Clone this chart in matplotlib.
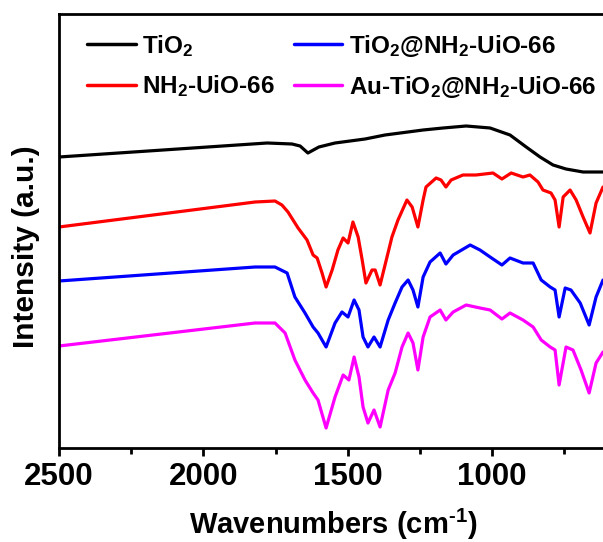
import matplotlib
matplotlib.use("Agg")
import matplotlib.pyplot as plt
from matplotlib.ticker import MultipleLocator

plt.rcParams['font.family'] = ['Liberation Sans', 'DejaVu Sans']
plt.rcParams['font.weight'] = 'bold'
plt.rcParams['mathtext.fontset'] = 'custom'
plt.rcParams['mathtext.rm'] = 'Liberation Sans:bold'
plt.rcParams['mathtext.it'] = 'Liberation Sans:bold'
plt.rcParams['mathtext.bf'] = 'Liberation Sans:bold'
plt.rcParams['mathtext.default'] = 'rm'

# FTIR spectra (wavenumber in cm^-1, intensity in arbitrary units, curves offset)
tio2_wn = [2500, 1779, 1693, 1665, 1638, 1600, 1544, 1440, 1371, 1239, 1170,
           1090, 1007, 938, 882, 834, 789, 744, 685, 616]
tio2_y = [291, 305, 304, 302, 295, 301, 305, 309, 313, 318, 320,
          322, 320, 313, 301, 291, 283, 279, 276, 276]

uio_wn = [2500, 1821, 1752, 1728, 1707, 1672, 1641, 1620, 1606, 1589, 1575,
          1554, 1534, 1516, 1499, 1482, 1464, 1450, 1437, 1416, 1405, 1388,
          1364, 1347, 1326, 1295, 1277, 1257, 1239, 1229, 1194, 1177, 1160,
          1142, 1101, 1056, 997, 966, 934, 893, 869, 841, 824, 796, 782,
          768, 754, 730, 709, 685, 661, 640, 616]
uio_y = [221, 246, 247, 243, 236, 220, 208, 193, 190, 175, 161,
         178, 198, 210, 205, 226, 211, 188, 165, 178, 178, 163,
         191, 211, 228, 248, 241, 221, 248, 261, 270, 268, 261,
         268, 273, 273, 275, 269, 275, 271, 273, 266, 258, 255, 248,
         221, 251, 258, 248, 231, 215, 245, 261]

tio2_uio_wn = [2500, 1821, 1752, 1710, 1683, 1648, 1620, 1603, 1575, 1544, 1520,
               1499, 1478, 1461, 1447, 1430, 1409, 1388, 1360, 1336, 1312, 1291,
               1274, 1257, 1239, 1215, 1180, 1160, 1135, 1076, 1042, 1007, 966,
               938, 893, 858, 830, 799, 782, 768, 747, 727, 695, 664, 640, 616]
tio2_uio_y = [167, 181, 181, 175, 151, 135, 121, 115, 101, 125, 136,
              131, 148, 138, 111, 101, 111, 101, 128, 145, 161, 168,
              158, 141, 171, 186, 195, 184, 193, 203, 198, 191, 183,
              190, 185, 185, 168, 161, 158, 131, 160, 158, 145, 123, 151, 168]

au_wn = [2500, 1821, 1752, 1717, 1683, 1648, 1620, 1603, 1575, 1544, 1516,
         1496, 1478, 1461, 1447, 1430, 1409, 1388, 1360, 1336, 1312, 1291,
         1274, 1257, 1239, 1215, 1180, 1160, 1135, 1090, 1042, 1007, 966,
         938, 893, 858, 830, 799, 782, 768, 744, 720, 692, 664, 640, 616]
au_y = [102, 125, 125, 115, 88, 68, 55, 48, 20, 51, 73,
        68, 91, 71, 41, 25, 38, 21, 58, 75, 101, 115,
        105, 78, 111, 131, 138, 128, 136, 143, 140, 138, 129,
        135, 128, 121, 108, 101, 98, 63, 101, 98, 78, 55, 85, 96]

labels = ['TiO$_2$', 'NH$_2$-UiO-66', 'TiO$_2$@NH$_2$-UiO-66', 'Au-TiO$_2$@NH$_2$-UiO-66']
colors = ['#000000', '#ff0000', '#0000ff', '#ff00ff']

fig = plt.figure(figsize=(6.03, 5.42), dpi=100)
ax = fig.add_axes([59 / 603, 94 / 542, 544 / 603, 434 / 542])

series = [(tio2_wn, tio2_y), (uio_wn, uio_y), (tio2_uio_wn, tio2_uio_y), (au_wn, au_y)]
handles = []
for (wn, y), c, lab in zip(series, colors, labels):
    h, = ax.plot(wn, y, color=c, lw=2.3, label=lab,
                 solid_joinstyle='round', solid_capstyle='round')
    handles.append(h)

ax.set_xlim(2500, 616)
ax.set_ylim(0, 434)
ax.xaxis.set_major_locator(MultipleLocator(500))
ax.xaxis.set_minor_locator(MultipleLocator(250))
ax.set_yticks([])
ax.spines['right'].set_visible(False)
for s in ['left', 'bottom', 'top']:
    ax.spines[s].set_linewidth(2.0)
ax.tick_params(axis='x', which='major', direction='out', length=6, width=2.0,
               labelsize=22.5, pad=4)
ax.tick_params(axis='x', which='minor', direction='out', length=4, width=2.0)
for t in ax.get_xticklabels():
    t.set_fontweight('bold')

ax.set_xlabel(r'Wavenumbers (cm$^{\text{-1}}$)', fontsize=21, fontweight='bold')
ax.xaxis.set_label_coords((333 - 59) / 544, -0.135)
ax.set_ylabel('Intensity (a.u.)', fontsize=21.5, fontweight='bold')
ax.yaxis.set_label_coords(-0.035, 0.463)

leg = ax.legend(handles=handles, labels=labels,
                ncol=2, frameon=False, fontsize=17.5, loc='upper left',
                bbox_to_anchor=(87 / 603, 1 - 33 / 542), bbox_transform=fig.transFigure,
                borderpad=0, borderaxespad=0, handlelength=2.0, handletextpad=0.25,
                columnspacing=0.8, labelspacing=0.6)
for t in leg.get_texts():
    t.set_fontweight('bold')
for l in leg.get_lines():
    l.set_linewidth(2.5)

fig.savefig('out.png', dpi=100)
